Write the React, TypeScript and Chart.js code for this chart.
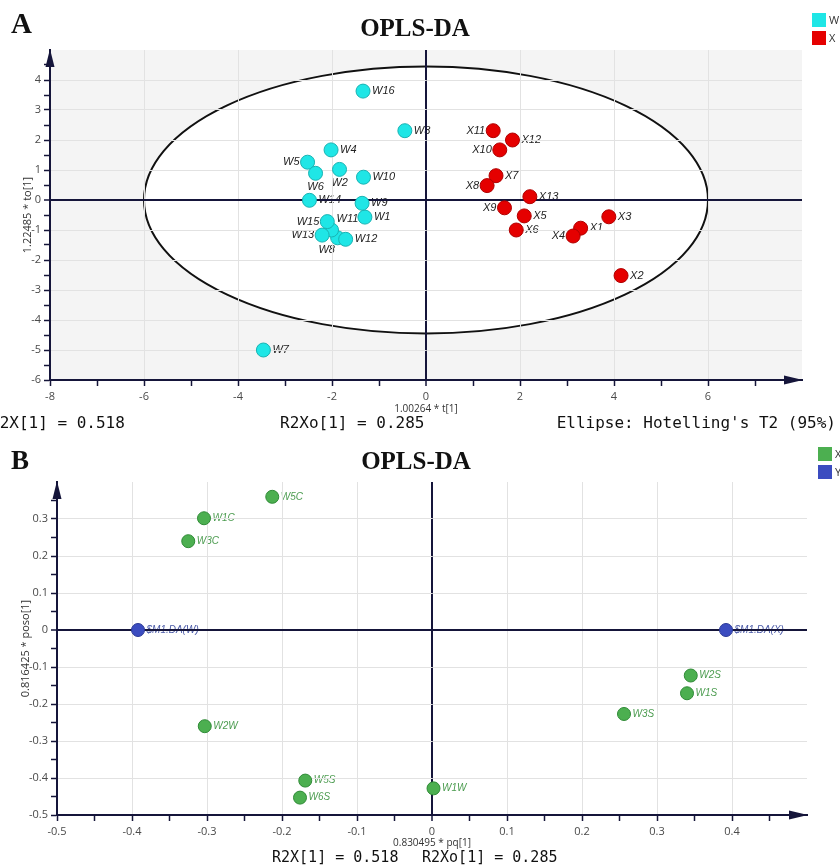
import React, { useEffect, useRef } from "react";
import { Chart, registerables } from "chart.js";

Chart.register(...registerables);

// ---------------- Panel A : OPLS-DA scores ----------------
const A_W_NAMES = ["W1", "W2", "W3", "W4", "W5", "W6", "W7", "W8", "W9", "W10", "W11", "W12", "W13", "W14", "W15", "W16"];
const A_W_T = [-1.3, -1.84, -0.45, -2.02, -2.52, -2.35, -3.46, -1.88, -1.36, -1.33, -2.01, -1.71, -2.21, -2.48, -2.1, -1.34];
const A_W_TO = [-0.57, 1.02, 2.31, 1.67, 1.26, 0.89, -5.0, -1.26, -0.11, 0.76, -1.0, -1.31, -1.17, -0.01, -0.72, 3.63];
const A_W_LABEL_SIDE = ["r", "b", "r", "r", "l", "b", "r", "bl", "r", "r", "tr", "r", "l", "r", "l", "r"];

const A_X_NAMES = ["X1", "X2", "X3", "X4", "X5", "X6", "X7", "X8", "X9", "X10", "X11", "X12", "X13"];
const A_X_T = [3.29, 4.15, 3.89, 3.13, 2.09, 1.92, 1.49, 1.3, 1.67, 1.57, 1.43, 1.84, 2.21];
const A_X_TO = [-0.94, -2.52, -0.56, -1.2, -0.53, -1.0, 0.81, 0.48, -0.26, 1.67, 2.31, 2.0, 0.11];
const A_X_LABEL_SIDE = ["r", "r", "r", "l", "r", "r", "r", "l", "l", "l", "l", "r", "r"];

const A_LEGEND = ["W", "X"];
const A_X_MIN = -8, A_X_MAX = 8, A_Y_MIN = -6, A_Y_MAX = 5;
const ELLIPSE_T = 6;      // Hotelling's T2 semi-axis along t[1]
const ELLIPSE_TO = 4.45;  // semi-axis along to[1]

// ---------------- Panel B : loadings ----------------
const B_X_NAMES = ["W5C", "W1C", "W3C", "W2W", "W5S", "W6S", "W1W", "W2S", "W1S", "W3S"];
const B_X_PQ = [-0.213, -0.304, -0.325, -0.303, -0.169, -0.176, 0.002, 0.345, 0.34, 0.256];
const B_X_POSO = [0.36, 0.302, 0.24, -0.26, -0.407, -0.453, -0.428, -0.123, -0.171, -0.227];
const B_Y_NAMES = ["$M1.DA(W)", "$M1.DA(X)"];
const B_Y_PQ = [-0.392, 0.392];
const B_Y_POSO = [0, 0];
const B_LEGEND = ["X", "Y"];
const B_X_MIN = -0.5, B_X_MAX = 0.5, B_Y_MIN = -0.5, B_Y_MAX = 0.4;

// ---------------- styles ----------------
const AXIS = "#15153a";
const GRID = "#e2e2e2";
const CYAN = "#1fe6e6", CYAN_B = "#19b3b3";
const RED = "#e50000", RED_B = "#b00000";
const GREEN = "#4caf50", GREEN_B = "#2f8a36";
const BLUE = "#3b4cc0", BLUE_B = "#2a3896";
const TICK_FONT = { family: "'Open Sans', sans-serif", size: 11 };

function makeTicks(min: number, max: number, step: number) {
  const n = Math.round((max - min) / step);
  const out: { value: number }[] = [];
  for (let i = 0; i <= n; i++) out.push({ value: Math.round((min + i * step) * 1000) / 1000 });
  return out;
}

const near = (a: number, b: number) => Math.abs(a - b) < 1e-9;

function axisPlugin(opts: { shade: boolean }) {
  return {
    id: "decor",
    beforeDraw(chart: any) {
      const { ctx, chartArea: ca, scales } = chart;
      const x = scales.x, y = scales.y;
      ctx.save();
      if (opts.shade) {
        ctx.fillStyle = "#f4f4f4";
        ctx.fillRect(ca.left, ca.top, ca.width, ca.height);
        ctx.beginPath();
        ctx.rect(ca.left, ca.top, ca.width, ca.height);
        ctx.clip();
        const cx = x.getPixelForValue(0), cy = y.getPixelForValue(0);
        const rx = x.getPixelForValue(ELLIPSE_T) - cx;
        const ry = cy - y.getPixelForValue(ELLIPSE_TO);
        ctx.beginPath();
        ctx.ellipse(cx, cy, rx, ry, 0, 0, Math.PI * 2);
        ctx.fillStyle = "#ffffff";
        ctx.fill();
        ctx.lineWidth = 2;
        ctx.strokeStyle = "#111111";
        ctx.stroke();
      }
      // point labels (drawn under the grid/axis lines, like the original)
      chart.data.datasets.forEach((ds: any, di: number) => {
        const meta = chart.getDatasetMeta(di);
        ctx.font = `italic ${ds.labelSize}px 'Liberation Sans', Arial, sans-serif`;
        ctx.fillStyle = ds.labelColor;
        meta.data.forEach((pt: any, i: number) => {
          const name = ds.names[i];
          const side = ds.sides ? ds.sides[i] : "r";
          const r = ds.pointRadius;
          let tx = pt.x, ty = pt.y;
          ctx.textBaseline = "middle";
          if (side === "r") { ctx.textAlign = "left"; tx = pt.x + r + 2; }
          else if (side === "l") { ctx.textAlign = "right"; tx = pt.x - r - 1; }
          else if (side === "b") { ctx.textAlign = "center"; ty = pt.y + 14; }
          else if (side === "bl") { ctx.textAlign = "center"; tx = pt.x - 11; ty = pt.y + 12; }
          else if (side === "tr") { ctx.textAlign = "left"; tx = pt.x + 5; ty = pt.y - 11; }
          ctx.fillText(name, tx, ty);
        });
      });
      ctx.restore();
    },
    afterDraw(chart: any) {
      const { ctx, chartArea: ca } = chart;
      ctx.save();
      ctx.fillStyle = AXIS;
      ctx.beginPath();
      ctx.moveTo(ca.left, ca.top - 1);
      ctx.lineTo(ca.left - 4.5, ca.top + 17);
      ctx.lineTo(ca.left + 4.5, ca.top + 17);
      ctx.closePath();
      ctx.fill();
      ctx.beginPath();
      ctx.moveTo(ca.right + 1, ca.bottom);
      ctx.lineTo(ca.right - 18, ca.bottom - 4.5);
      ctx.lineTo(ca.right - 18, ca.bottom + 4.5);
      ctx.closePath();
      ctx.fill();
      ctx.restore();
    },
  };
}

function scaleOpts(p: {
  min: number; max: number; step: number; major: number; title: string;
  isY: boolean; size: number; titlePad: any;
}) {
  const isMajor = (v: number) => near(Math.round(v / p.major) * p.major, v);
  return {
    type: "linear",
    min: p.min,
    max: p.max,
    afterBuildTicks: (s: any) => { s.ticks = makeTicks(p.min, p.max, p.step); },
    afterFit: (s: any) => { if (p.isY) s.width = p.size; else s.height = p.size; },
    ticks: {
      autoSkip: false,
      maxRotation: 0,
      padding: p.isY ? 3 : 4,
      color: "#4a4a4a",
      font: TICK_FONT,
      callback: (v: number) => (isMajor(v) && !near(v, p.max) ? String(Math.round(v * 10) / 10) : ""),
    },
    grid: {
      drawTicks: true,
      tickLength: 6,
      tickWidth: 1.5,
      tickColor: (c: any) => (c.tick && near(c.tick.value, p.max) ? "rgba(0,0,0,0)" : AXIS),
      color: (c: any) => {
        const v = c.tick ? c.tick.value : NaN;
        if (near(v, 0)) return AXIS;
        if (near(v, p.max) || near(v, p.min)) return "rgba(0,0,0,0)";
        return isMajor(v) ? GRID : "rgba(0,0,0,0)";
      },
      lineWidth: (c: any) => (c.tick && near(c.tick.value, 0) ? 2 : 1),
    },
    border: { display: true, color: AXIS, width: 2 },
    title: {
      display: true,
      text: p.title,
      color: "#333",
      font: { family: "'Open Sans', sans-serif", size: p.isY ? 11 : 10 },
      padding: p.titlePad,
    },
  };
}

function pts(xs: number[], ys: number[]) {
  return xs.map((x, i) => ({ x, y: ys[i] }));
}

function useChart(ref: React.RefObject<HTMLCanvasElement>, build: () => any) {
  useEffect(() => {
    if (!ref.current) return;
    const chart = new Chart(ref.current, build());
    return () => chart.destroy();
  }, []);
}

const legendBox = (color: string, top: number, left: number) => ({
  position: "absolute" as const, left, top, width: 14, height: 14, background: color,
});

export default function App() {
  const refA = useRef<HTMLCanvasElement>(null);
  const refB = useRef<HTMLCanvasElement>(null);

  useChart(refA, () => ({
    type: "scatter",
    data: {
      datasets: [
        {
          label: A_LEGEND[0], data: pts(A_W_T, A_W_TO), names: A_W_NAMES, sides: A_W_LABEL_SIDE,
          backgroundColor: CYAN, borderColor: CYAN_B, borderWidth: 1, pointRadius: 7,
          labelColor: "#222", labelSize: 11,
        },
        {
          label: A_LEGEND[1], data: pts(A_X_T, A_X_TO), names: A_X_NAMES, sides: A_X_LABEL_SIDE,
          backgroundColor: RED, borderColor: RED_B, borderWidth: 1, pointRadius: 7,
          labelColor: "#222", labelSize: 11,
        },
      ],
    },
    options: {
      responsive: false,
      animation: false,
      events: [],
      layout: { padding: { top: 50, right: 38, left: 0, bottom: 0 } },
      plugins: { legend: { display: false }, tooltip: { enabled: false }, title: { display: false } },
      scales: {
        x: scaleOpts({ min: A_X_MIN, max: A_X_MAX, step: 1, major: 2, title: "1.00264 * t[1]", isY: false, size: 60, titlePad: { top: 0, bottom: 25 } }),
        y: scaleOpts({ min: A_Y_MIN, max: A_Y_MAX, step: 0.5, major: 1, title: "1.22485 * to[1]", isY: true, size: 50, titlePad: { top: 21, bottom: 0 } }),
      },
    },
    plugins: [axisPlugin({ shade: true })],
  }));

  useChart(refB, () => ({
    type: "scatter",
    data: {
      datasets: [
        {
          label: B_LEGEND[0], data: pts(B_X_PQ, B_X_POSO), names: B_X_NAMES,
          backgroundColor: GREEN, borderColor: GREEN_B, borderWidth: 1, pointRadius: 6.5,
          labelColor: "#4c9c50", labelSize: 10,
        },
        {
          label: B_LEGEND[1], data: pts(B_Y_PQ, B_Y_POSO), names: B_Y_NAMES,
          backgroundColor: BLUE, borderColor: BLUE_B, borderWidth: 1, pointRadius: 6.5,
          labelColor: "#4b5aa8", labelSize: 10,
        },
      ],
    },
    options: {
      responsive: false,
      animation: false,
      events: [],
      layout: { padding: { top: 42, right: 33, left: 0, bottom: 0 } },
      plugins: { legend: { display: false }, tooltip: { enabled: false }, title: { display: false } },
      scales: {
        x: scaleOpts({ min: B_X_MIN, max: B_X_MAX, step: 0.05, major: 0.1, title: "0.830495 * pq[1]", isY: false, size: 50, titlePad: { top: 0, bottom: 16 } }),
        y: scaleOpts({ min: B_Y_MIN, max: B_Y_MAX, step: 0.05, major: 0.1, title: "0.816425 * poso[1]", isY: true, size: 57, titlePad: { top: 19, bottom: 0 } }),
      },
    },
    plugins: [axisPlugin({ shade: false })],
  }));

  const serif = "'Liberation Serif', 'Times New Roman', serif";
  const mono = "'DejaVu Sans Mono', monospace";
  const footer = (left: number | undefined, top: number, text: string, size: number, right?: number) => (
    <div style={{ position: "absolute", left, right, top, font: `${size}px ${mono}`, lineHeight: "18px", color: "#111", whiteSpace: "pre" }}>{text}</div>
  );
  const legText = (left: number, top: number, t: string) => (
    <div style={{ position: "absolute", left, top, font: "11px 'Open Sans', sans-serif", lineHeight: "14px", color: "#333" }}>{t}</div>
  );

  return (
    <div style={{ position: "absolute", left: 0, top: 0, width: 840, height: 865, overflow: "hidden", background: "#fff" }}>
      <canvas ref={refA} width={840} height={440} style={{ position: "absolute", left: 0, top: 0 }} />
      <canvas ref={refB} width={840} height={425} style={{ position: "absolute", left: 0, top: 440 }} />

      <div style={{ position: "absolute", left: 11, top: 6, font: `bold 29px ${serif}`, lineHeight: "34px", color: "#111" }}>A</div>
      <div style={{ position: "absolute", left: 0, width: 830, top: 13, textAlign: "center", font: `bold 25px ${serif}`, lineHeight: "30px", color: "#111" }}>OPLS-DA</div>
      <div style={legendBox(CYAN, 13, 812)} />
      <div style={legendBox(RED, 31, 812)} />
      {legText(829, 13, A_LEGEND[0])}
      {legText(829, 31, A_LEGEND[1])}
      {footer(-10, 414, "R2X[1] = 0.518", 16)}
      {footer(280, 414, "R2Xo[1] = 0.285", 16)}
      {footer(undefined, 414, "Ellipse: Hotelling's T2 (95%)", 16, 4)}

      <div style={{ position: "absolute", left: 11, top: 444, font: `bold 27px ${serif}`, lineHeight: "32px", color: "#111" }}>B</div>
      <div style={{ position: "absolute", left: 0, width: 832, top: 446, textAlign: "center", font: `bold 25px ${serif}`, lineHeight: "30px", color: "#111" }}>OPLS-DA</div>
      <div style={legendBox(GREEN, 447, 818)} />
      <div style={legendBox(BLUE, 465, 818)} />
      {legText(835, 447, B_LEGEND[0])}
      {legText(835, 465, B_LEGEND[1])}
      {footer(272, 848, "R2X[1] = 0.518", 15)}
      {footer(422, 848, "R2Xo[1] = 0.285", 15)}
    </div>
  );
}
